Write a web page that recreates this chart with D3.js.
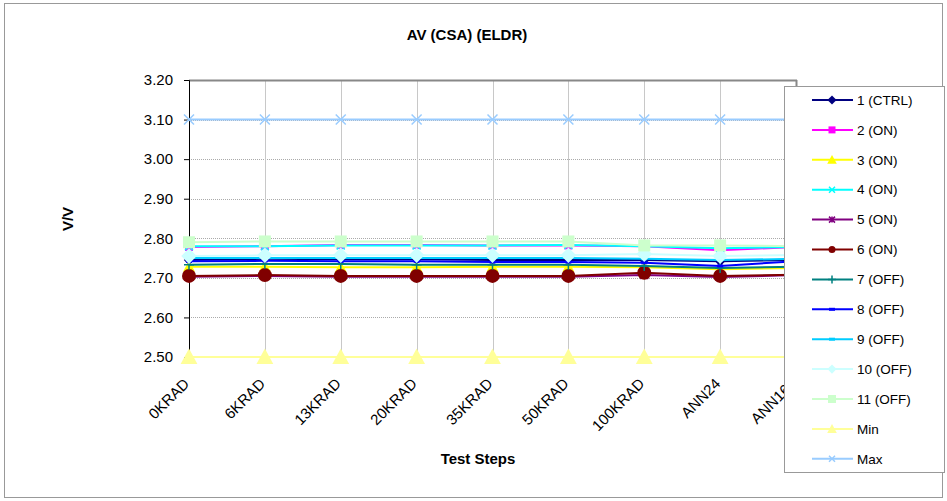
<!DOCTYPE html>
<html><head><meta charset="utf-8">
<script src="https://cdn.jsdelivr.net/npm/d3@7"></script>
<style>body{margin:0;background:#fff}svg{display:block;font-family:"Liberation Sans",Arial,sans-serif}</style>
</head><body><svg id="c" width="947" height="501"></svg>
<script>
const categories = ["0KRAD","6KRAD","13KRAD","20KRAD","35KRAD","50KRAD","100KRAD","ANN24","ANN168"];
const seriesNames = ["1 (CTRL)","2 (ON)","3 (ON)","4 (ON)","5 (ON)","6 (ON)","7 (OFF)","8 (OFF)","9 (OFF)","10 (OFF)","11 (OFF)","Min","Max"];
const s1  = [2.745,2.748,2.747,2.747,2.745,2.745,2.745,2.742,2.745];
const s2  = [2.778,2.780,2.783,2.783,2.782,2.782,2.780,2.770,2.778];
const s3  = [2.728,2.728,2.727,2.727,2.728,2.728,2.727,2.722,2.725];
const s4  = [2.780,2.780,2.782,2.782,2.782,2.783,2.780,2.775,2.778];
const s5  = [2.703,2.705,2.703,2.703,2.703,2.703,2.707,2.702,2.707];
const s6  = [2.705,2.707,2.705,2.705,2.705,2.705,2.713,2.705,2.708];
const s7  = [2.733,2.735,2.735,2.733,2.733,2.733,2.730,2.725,2.728];
const s8  = [2.742,2.743,2.742,2.742,2.740,2.740,2.738,2.730,2.742];
const s9  = [2.750,2.750,2.750,2.750,2.750,2.750,2.748,2.745,2.748];
const s10 = [2.755,2.757,2.757,2.757,2.757,2.757,2.760,2.755,2.758];
const s11 = [2.790,2.792,2.792,2.792,2.792,2.792,2.782,2.782,2.780];
const sMin = [2.50,2.50,2.50,2.50,2.50,2.50,2.50,2.50,2.50];
const sMax = [3.10,3.10,3.10,3.10,3.10,3.10,3.10,3.10,3.10];
const yTicks = [2.50,2.60,2.70,2.80,2.90,3.00,3.10,3.20];
const seriesValues = [s1,s2,s3,s4,s5,s6,s7,s8,s9,s10,s11,sMin,sMax];
const colors = ["#000080","#FF00FF","#FFFF00","#00FFFF","#800080","#800000","#008080","#0000FF","#00CCFF","#CCFFFF","#CCFFCC","#FFFF99","#99CCFF"];
const markers = ["diamond","square","triangle","x","star","circle","plus","dash","dash","diamond","square","triangle","x"];

const svg = d3.select("#c");
const L=189,R=796,T=80,B=357;
const x = d3.scalePoint().domain(categories).range([L,R]);
const y = d3.scaleLinear().domain([2.5,3.2]).range([B,T]);

svg.append("rect").attr("x",4.5).attr("y",3.5).attr("width",938).attr("height",494).attr("fill","none").attr("stroke","#999").attr("stroke-width",1);

const g = svg.append("g");
g.selectAll(".hg").data(yTicks).join("line").attr("x1",L).attr("x2",R).attr("y1",d=>Math.round(y(d))+.5).attr("y2",d=>Math.round(y(d))+.5)
 .attr("stroke","#aaa").attr("stroke-width",1).attr("stroke-dasharray","1,1");
g.selectAll(".vg").data(categories).join("line").attr("x1",d=>Math.round(x(d))+.5).attr("x2",d=>Math.round(x(d))+.5).attr("y1",T).attr("y2",B)
 .attr("stroke","#c8c8c8").attr("stroke-width",1);
svg.append("line").attr("x1",L).attr("x2",R+1).attr("y1",T+.5).attr("y2",T+.5).attr("stroke","#888").attr("stroke-width",2);
svg.append("line").attr("x1",R+.5).attr("x2",R+.5).attr("y1",T).attr("y2",B).attr("stroke","#888").attr("stroke-width",2);

const ya = svg.append("g").attr("transform",`translate(${L},0)`).call(d3.axisLeft(y).tickValues(yTicks).tickFormat(d3.format(".2f")).tickSize(5).tickPadding(11));
ya.select(".domain").attr("stroke","#000");
ya.selectAll("text").attr("font-size",15).attr("fill","#000").attr("font-family","Liberation Sans, Arial");
const xa = svg.append("g").attr("transform",`translate(0,${B})`).call(d3.axisBottom(x).tickSize(5));
xa.select(".domain").attr("stroke","#000");
xa.selectAll("text").attr("font-size",15).attr("fill","#000").attr("font-family","Liberation Sans, Arial")
  .attr("text-anchor","end").attr("y",0).attr("dy","0.35em").attr("transform","translate(-3,24) rotate(-45)");

function marker(sel,type,color,s){
  if(type==="circle") sel.append("circle").attr("r",s).attr("fill",color);
  else if(type==="square") sel.append("rect").attr("x",-s).attr("y",-s).attr("width",2*s).attr("height",2*s).attr("fill",color);
  else if(type==="diamond") sel.append("path").attr("d",`M0,${-s*1.3}L${s*1.3},0L0,${s*1.3}L${-s*1.3},0Z`).attr("fill",color);
  else if(type==="triangle") sel.append("path").attr("d",`M0,${-s*1.2}L${s*1.2},${s}L${-s*1.2},${s}Z`).attr("fill",color);
  else if(type==="x") sel.append("path").attr("d",`M${-s},${-s}L${s},${s}M${-s},${s}L${s},${-s}`).attr("stroke",color).attr("stroke-width",1.5);
  else if(type==="star") sel.append("path").attr("d",`M${-s},${-s}L${s},${s}M${-s},${s}L${s},${-s}M0,${-s}L0,${s}`).attr("stroke",color).attr("stroke-width",1.5);
  else if(type==="plus") sel.append("path").attr("d",`M${-s},0L${s},0M0,${-s}L0,${s}`).attr("stroke",color).attr("stroke-width",1.5);
  else if(type==="dash") sel.append("rect").attr("x",-s).attr("y",-1.5).attr("width",2*s).attr("height",3).attr("fill",color);
}
const plotSizes = [4,4,5,4,4,7,5,3,3,6,6,7,5];
const legSizes  = [3.5,3.5,4,3,3,3.5,4,3,3,3.5,4,4,3];

const line = d3.line().x((d,i)=>x(categories[i])).y(d=>y(d));
seriesValues.forEach((vals,k)=>{
  const gg = svg.append("g");
  gg.append("path").attr("d",line(vals)).attr("fill","none").attr("stroke",colors[k]).attr("stroke-width",2);
  vals.forEach((v,i)=>{
    const m = gg.append("g").attr("transform",`translate(${x(categories[i])},${y(v)})`);
    marker(m,markers[k],colors[k],plotSizes[k]);
  });
});

svg.append("text").attr("x",467).attr("y",40).attr("text-anchor","middle").attr("font-size",15).attr("font-weight","bold").text("AV (CSA) (ELDR)");
svg.append("text").attr("transform","translate(73,219) rotate(-90)").attr("text-anchor","middle").attr("font-size",15).attr("font-weight","bold").text("V/V");
svg.append("text").attr("x",478).attr("y",464).attr("text-anchor","middle").attr("font-size",15).attr("font-weight","bold").text("Test Steps");

const lg = svg.append("g");
lg.append("rect").attr("x",784.5).attr("y",86.5).attr("width",160).attr("height",386).attr("fill","#fff").attr("stroke","#999");
seriesNames.forEach((n,k)=>{
  const yy = 100 + k*29.9;
  lg.append("line").attr("x1",812).attr("x2",853).attr("y1",yy).attr("y2",yy).attr("stroke",colors[k]).attr("stroke-width",2);
  const m = lg.append("g").attr("transform",`translate(832,${yy})`);
  marker(m,markers[k],colors[k],legSizes[k]);
  lg.append("text").attr("x",857).attr("y",yy).attr("dy","0.35em").attr("font-size",13.5).text(n);
});
</script></body></html>
